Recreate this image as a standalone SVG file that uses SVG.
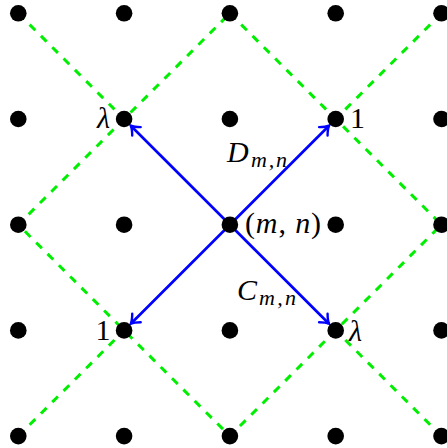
<svg xmlns="http://www.w3.org/2000/svg" width="447" height="448" viewBox="0 0 447 448">
  <style>
    .dot { fill: #000; }
    .green { fill: none; stroke: #00ee00; stroke-width: 3; stroke-dasharray: 8 8; }
    .arrow { fill: none; stroke: #0000ff; stroke-width: 2.7; marker-end: url(#tip); }
    .t { font-family: "Liberation Serif", "DejaVu Serif", serif; font-size: 30px; fill: #000; }
    .it { font-style: italic; }
    .sub { font-size: 22px; font-style: italic; }
  </style>
  <defs>
    <marker id="tip" markerUnits="userSpaceOnUse" viewBox="-10 -8 12 16" refX="0" refY="0" markerWidth="12" markerHeight="16" orient="auto" overflow="visible">
      <path d="M -8,-6 C -4.5,-2.5 -2,-0.8 0,0 C -2,0.8 -4.5,2.5 -8,6" fill="none" stroke="#0000ff" stroke-width="2.4" stroke-linecap="round"/>
    </marker>
  </defs>

  <g id="connectors">
    <g id="green-lines">
      <path class="green" d="M 229.9,13.3 L 441.5,224.7 L 229.9,436.1 L 18.3,224.7 Z"/>
      <path class="green" d="M 18.3,13.3 L 124.1,119"/>
      <path class="green" d="M 441.5,13.3 L 335.7,119"/>
      <path class="green" d="M 18.3,436.1 L 124.1,330.4"/>
      <path class="green" d="M 441.5,436.1 L 335.7,330.4"/>
    </g>
    <g id="arrows">
      <path class="arrow" d="M 229.9,224.7 L 329,125.7"/>
      <path class="arrow" d="M 229.9,224.7 L 130.8,125.7"/>
      <path class="arrow" d="M 229.9,224.7 L 130.8,323.7"/>
      <path class="arrow" d="M 229.9,224.7 L 329,323.7"/>
    </g>
  </g>

  <g id="dots">
    <circle class="dot" cx="18.3" cy="13.3" r="8.3"/>
    <circle class="dot" cx="124.1" cy="13.3" r="8.3"/>
    <circle class="dot" cx="229.9" cy="13.3" r="8.3"/>
    <circle class="dot" cx="335.7" cy="13.3" r="8.3"/>
    <circle class="dot" cx="441.5" cy="13.3" r="8.3"/>

    <circle class="dot" cx="18.3" cy="119" r="8.3"/>
    <circle class="dot" cx="229.9" cy="119" r="8.3"/>
    <circle class="dot" cx="441.5" cy="119" r="8.3"/>

    <circle class="dot" cx="18.3" cy="224.7" r="8.3"/>
    <circle class="dot" cx="124.1" cy="224.7" r="8.3"/>
    <circle class="dot" cx="335.7" cy="224.7" r="8.3"/>
    <circle class="dot" cx="441.5" cy="224.7" r="8.3"/>

    <circle class="dot" cx="18.3" cy="330.4" r="8.3"/>
    <circle class="dot" cx="229.9" cy="330.4" r="8.3"/>
    <circle class="dot" cx="441.5" cy="330.4" r="8.3"/>

    <circle class="dot" cx="18.3" cy="436.1" r="8.3"/>
    <circle class="dot" cx="124.1" cy="436.1" r="8.3"/>
    <circle class="dot" cx="229.9" cy="436.1" r="8.3"/>
    <circle class="dot" cx="335.7" cy="436.1" r="8.3"/>
    <circle class="dot" cx="441.5" cy="436.1" r="8.3"/>
  </g>

  <g id="node-nw">
    <circle class="dot" cx="124.1" cy="119" r="8.3"/>
    <text class="t it" x="97" y="128">λ</text>
  </g>
  <g id="node-ne">
    <circle class="dot" cx="335.7" cy="119" r="8.3"/>
    <text class="t" x="350" y="128">1</text>
  </g>
  <g id="node-center">
    <circle class="dot" cx="229.9" cy="224.7" r="8.3"/>
    <text class="t" x="245" y="233" textLength="76" lengthAdjust="spacing">(<tspan class="it">m</tspan>, <tspan class="it">n</tspan>)</text>
  </g>
  <g id="node-sw">
    <circle class="dot" cx="124.1" cy="330.4" r="8.3"/>
    <text class="t" x="95.5" y="340">1</text>
  </g>
  <g id="node-se">
    <circle class="dot" cx="335.7" cy="330.4" r="8.3"/>
    <text class="t it" x="349" y="341">λ</text>
  </g>

  <g id="label-d">
    <text class="t it" x="227" y="162">D</text>
    <text class="t sub" x="251" y="167" textLength="36" lengthAdjust="spacing">m,n</text>
  </g>
  <g id="label-c">
    <text class="t it" x="237" y="300">C</text>
    <text class="t sub" x="259" y="305" textLength="37" lengthAdjust="spacing">m,n</text>
  </g>
</svg>
